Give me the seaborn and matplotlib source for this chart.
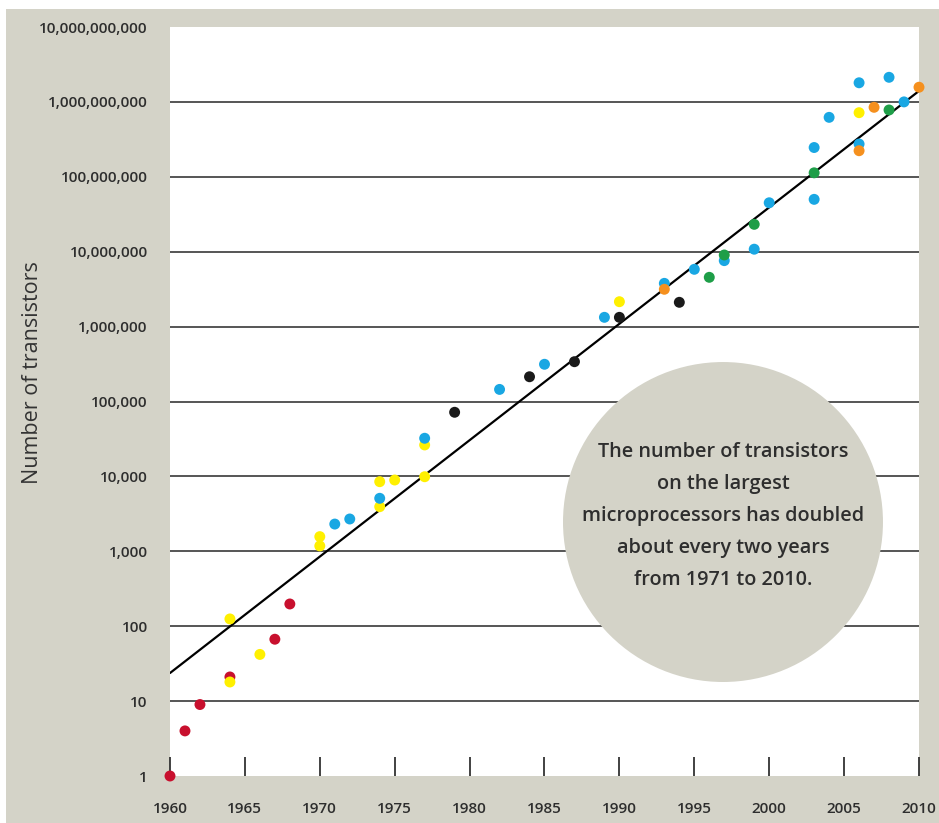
import numpy as np
import pandas as pd
import matplotlib
matplotlib.use("Agg")
import matplotlib.pyplot as plt
from matplotlib.patches import Rectangle, Circle
from matplotlib.ticker import FixedLocator, FuncFormatter
import seaborn as sns

# Transistor counts by year, grouped by chip family colour
red_years = [1960, 1961, 1962, 1964, 1967, 1968]
red_counts = [1, 4, 9, 21, 67, 198]

yellow_years = [1964, 1964, 1966, 1970, 1970, 1974, 1974, 1975, 1977, 1977, 1990, 2006]
yellow_counts = [18, 125, 42, 1570, 1180, 8500, 3940, 8950, 26300, 9900, 2150000, 718000000]

blue_years = [1971, 1972, 1974, 1977, 1982, 1985, 1989, 1993, 1995, 1997, 1999, 2000,
              2003, 2003, 2004, 2006, 2006, 2008, 2009]
blue_counts = [2310, 2700, 5100, 32300, 145000, 314000, 1330000, 3780000, 5820000,
               7600000, 10800000, 45000000, 50000000, 246000000, 622000000,
               1800000000, 274000000, 2130000000, 1000000000]

black_years = [1979, 1984, 1987, 1990, 1994]
black_counts = [71800, 214000, 340000, 1330000, 2110000]

green_years = [1996, 1997, 1999, 2003, 2008]
green_counts = [4550000, 9040000, 23200000, 113000000, 780000000]

orange_years = [1993, 2006, 2007, 2010]
orange_counts = [3150000, 223000000, 847000000, 1570000000]

# Doubling-every-two-years trend line endpoints
trend_years = [1960, 2010]
trend_counts = [23.7, 1.4e9]

x_ticks = [1960, 1965, 1970, 1975, 1980, 1985, 1990, 1995, 2000, 2005, 2010]
y_ticks = [1, 10, 100, 1e3, 1e4, 1e5, 1e6, 1e7, 1e8, 1e9, 1e10]
grid_levels = [10, 100, 1e3, 1e4, 1e5, 1e6, 1e7, 1e8, 1e9]

palette = {
    "red": "#c8102e",
    "yellow": "#fff000",
    "blue": "#19a7e3",
    "black": "#1a1a1a",
    "green": "#1e9e48",
    "orange": "#f5901e",
}

frames = []
for name, yrs, cnt in [("red", red_years, red_counts),
                       ("yellow", yellow_years, yellow_counts),
                       ("blue", blue_years, blue_counts),
                       ("black", black_years, black_counts),
                       ("green", green_years, green_counts),
                       ("orange", orange_years, orange_counts)]:
    frames.append(pd.DataFrame({"year": yrs, "count": cnt, "family": name}))
df = pd.concat(frames, ignore_index=True)
trend = pd.DataFrame({"year": trend_years, "count": trend_counts})

sns.set_style("white")
plt.rcParams["font.family"] = ["Open Sans", "DejaVu Sans"]

BG = "#d4d3c8"
TXT = "#2e2e2e"

fig = plt.figure(figsize=(9.39, 8.23), dpi=100, facecolor="white")
# grey panel behind the plot
fig.patches.append(Rectangle((6 / 939, 0), 1, (823 - 9) / 823, transform=fig.transFigure,
                             facecolor=BG, edgecolor="none", zorder=-10))

ax = fig.add_axes([170 / 939, 47 / 823, 749 / 939, 749 / 823])
ax.set_zorder(1)
ax.set_facecolor("white")
ax.set_yscale("log")
ax.set_xlim(1960, 2010)
ax.set_ylim(1, 1e10)

for lvl in grid_levels:
    ax.axhline(lvl, color="#555555", lw=1.4, zorder=1)

# callout bubble
ax.add_patch(Circle((0.7383, 0.3391), 0.2136, transform=ax.transAxes,
                    facecolor=BG, edgecolor="none", zorder=2))
ax.text(0.7383, 0.347,
        "The number of transistors\non the largest\nmicroprocessors has doubled\n"
        "about every two years\nfrom 1971 to 2010.",
        transform=ax.transAxes, ha="center", va="center", fontsize=14.3,
        fontweight="semibold", color=TXT, linespacing=1.8, zorder=3)

sns.lineplot(data=trend, x="year", y="count", color="black", lw=1.6, ax=ax, zorder=4)
sns.scatterplot(data=df, x="year", y="count", hue="family", palette=palette,
                s=62, linewidth=0, legend=False, ax=ax, zorder=5, clip_on=False)

for s in ax.spines.values():
    s.set_visible(False)

ax.xaxis.set_major_locator(FixedLocator(x_ticks))
ax.yaxis.set_major_locator(FixedLocator(y_ticks))
ax.yaxis.set_minor_locator(FixedLocator([]))
ax.yaxis.set_major_formatter(FuncFormatter(lambda v, p: f"{int(round(v)):,}"))
ax.xaxis.set_major_formatter(FuncFormatter(lambda v, p: f"{int(v)}"))

ax.tick_params(axis="x", direction="in", length=13.5, width=1.3, color="#333333",
               pad=19, labelsize=11, labelcolor=TXT, bottom=True)
ax.tick_params(axis="y", length=0, pad=16, labelsize=11, labelcolor=TXT, left=False)
for lbl in ax.get_xticklabels() + ax.get_yticklabels():
    lbl.set_fontweight("semibold")

ax.set_xlabel("")
ax.set_ylabel("")
fig.text(33 / 939, 1 - 373 / 823, "Number of transistors", rotation=90,
         ha="center", va="center", fontsize=15.5, color="#333333")

fig.savefig("out.png", dpi=100, facecolor="white")
